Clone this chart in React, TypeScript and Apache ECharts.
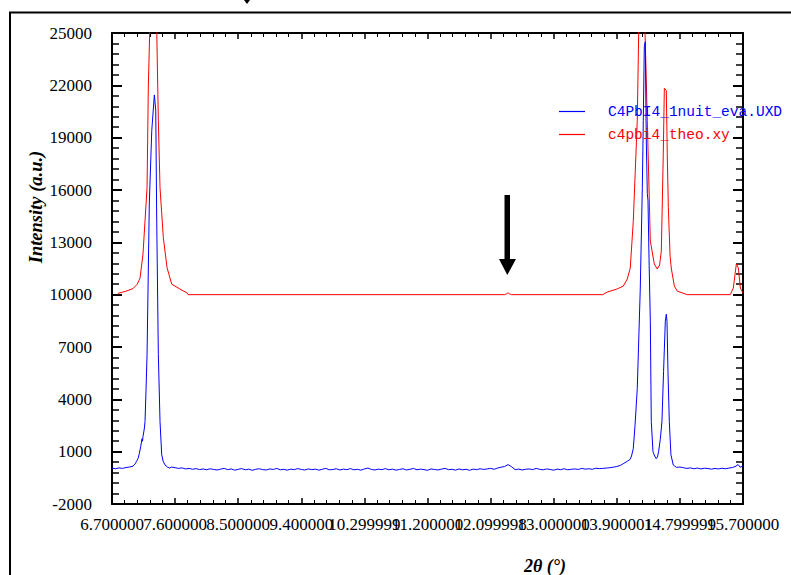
import React, { useEffect, useRef } from "react";
import * as echarts from "echarts";

const X_MIN = 6.7;
const X_MAX = 15.7;
const X_INTERVAL = 0.9;
const Y_MIN = -2000;
const Y_MAX = 25000;
const Y_INTERVAL = 3000;

const xTickLabels = [
  "6.700000", "7.600000", "8.500000", "9.400000", "10.299999", "11.200000",
  "12.099998", "13.000000", "13.900001", "14.799999", "15.700000",
];

const seriesNames = ["C4PbI4_1nuit_eva.UXD", "c4pbi4_theo.xy"];

// theoretical pattern (red)
const theoPoints: [number, number][] = [
  [6.786, 10000], [6.79, 10080], [6.9, 10200], [7.0, 10350], [7.06, 10600], [7.1, 10950],
  [7.142, 12330], [7.2, 16130], [7.218, 21900], [7.25, 27000], [7.29, 50000], [7.33, 27000],
  [7.361, 20000], [7.385, 16130], [7.432, 13270], [7.485, 11550], [7.552, 10600], [7.67, 10320],
  [7.77, 10100], [7.785, 10000], [12.3, 10000], [12.33, 10050], [12.35, 10110], [12.37, 10050],
  [12.4, 10000], [13.7, 10000], [13.764, 10150], [13.9, 10320], [13.992, 10490], [14.05, 10900],
  [14.092, 11530], [14.135, 14200], [14.192, 20000], [14.22, 27000], [14.256, 50000], [14.29, 27000],
  [14.335, 20000], [14.378, 13080], [14.435, 11760], [14.477, 11470], [14.51, 11700], [14.535, 12500],
  [14.563, 18100], [14.578, 21830], [14.606, 21700], [14.62, 18000], [14.635, 15000], [14.66, 12200],
  [14.677, 11530], [14.72, 10500], [14.763, 10200], [14.905, 10000], [15.519, 10000], [15.562, 10380],
  [15.605, 11760], [15.634, 11530], [15.662, 10380], [15.7, 10100],
];

// measured pattern (blue)
const BASE_STEP = 0.05;
const measuredStartX = 6.7;
const measuredStart = [60, 20, 70, 40, 90, 120];
const measuredPeak1: [number, number][] = [
  [7.0, 170], [7.03, 300], [7.05, 450], [7.071, 600], [7.09, 900], [7.11, 1300], [7.128, 1740],
  [7.135, 1600], [7.142, 1860], [7.16, 2300], [7.171, 2720], [7.185, 4500], [7.2, 6580],
  [7.232, 15200], [7.267, 19400], [7.304, 21450], [7.324, 20570], [7.338, 14230], [7.361, 6580],
  [7.385, 2720], [7.409, 820], [7.43, 450], [7.456, 240], [7.49, 120], [7.52, 60],
];
const measuredMidX = 7.55;
const measuredMid = [
  120, 80, 40, 70, 10, 40, -10, 30, -30, 10, -40, 20, -20, -50, 0, 40, -30, 10, -60, -10,
  30, -40, 0, -70, -10, 20, -30, -50, 10, -20, 40, -40, -10, -60, 0, -30, 30, -20, -50, 10,
  -30, 0, -60, -10, 40, -40, -20, 20, -50, 0, -30, 30, -40, -10, -60, 10, 60, -20, -50, 0,
  -30, 30, -40, 0, -60, -20, 20, -50, -10, 40, -40, 0, -30, -70, 10, -20, -50, 0, 40, -30,
  -10, -60, 10, -40, -10, -70, 0, -30, 20, -20, 10, 40, -10, 60, 110, 150, 260, 130, -30, 0,
  -50, -10, 10, -30, 40, -10, -40, 10, -20, -60, 0, -30, 20, -40, -10, 10, -20, 40, 0, 20,
  -10, 50, 30, 40, 60, 80, 110, 150,
];
const measuredPeak2: [number, number][] = [
  [13.95, 210], [14.0, 330], [14.05, 450], [14.09, 560], [14.11, 750], [14.135, 1170], [14.16, 2500],
  [14.192, 4620], [14.235, 10380], [14.264, 16130], [14.278, 20000], [14.292, 24200], [14.306, 24500],
  [14.32, 19000], [14.335, 15800], [14.345, 15400], [14.36, 12000], [14.378, 8480], [14.392, 2720],
  [14.416, 1000], [14.44, 750], [14.463, 600], [14.48, 700], [14.496, 1000], [14.52, 1700],
  [14.544, 2720], [14.567, 5600], [14.592, 8480], [14.606, 8880], [14.616, 8480], [14.63, 5600],
  [14.649, 2720], [14.672, 820], [14.705, 240], [14.75, 100],
];
const measuredEndX = 14.8;
const measuredEnd = [120, 80, 40, 70, 20, 60, 10, 50, 30, 0, 40, 10, 50, 20, 60, 90];
const measuredTail: [number, number][] = [[15.6, 170], [15.63, 260], [15.66, 110], [15.7, 180]];

function onGrid(x0: number, values: number[]): [number, number][] {
  return values.map((v, i) => [Number((x0 + i * BASE_STEP).toFixed(3)), v]);
}

const measuredPoints: [number, number][] = [
  ...onGrid(measuredStartX, measuredStart),
  ...measuredPeak1,
  ...onGrid(measuredMidX, measuredMid),
  ...measuredPeak2,
  ...onGrid(measuredEndX, measuredEnd),
  ...measuredTail,
];

const SERIF = '"Liberation Serif", "Times New Roman", serif';
const MONO = '"Liberation Mono", "Courier New", monospace';

export default function App() {
  const ref = useRef<HTMLDivElement>(null);
  useEffect(() => {
    if (!ref.current) return;
    const chart = echarts.init(ref.current, undefined, { renderer: "svg" });
    const xCommon = {
      type: "value" as const,
      min: X_MIN,
      max: X_MAX,
      interval: X_INTERVAL,
      axisLine: { show: true, onZero: false, lineStyle: { color: "#000", width: 2 } },
      axisTick: { show: true, inside: true, length: 6, lineStyle: { color: "#000", width: 1.5 } },
      minorTick: { show: true, splitNumber: 5, length: 4, lineStyle: { color: "#000", width: 1 } },
      splitLine: { show: false },
      minorSplitLine: { show: false },
    };
    const xLabelBase = {
      show: true,
      interval: 0,
      showMinLabel: true,
      showMaxLabel: true,
      hideOverlap: false,
      color: "#000",
      fontFamily: SERIF,
      fontSize: 17,
      margin: 12,
    };
    // Labels alternate between two bottom axes so that the library never drops overlapping ones.
    const labelFor = (v: number, parity: number) => {
      const idx = Math.round((v - X_MIN) / X_INTERVAL);
      return idx % 2 === parity ? xTickLabels[idx] ?? "" : "";
    };
    const yCommon = {
      type: "value" as const,
      min: Y_MIN,
      max: Y_MAX,
      interval: Y_INTERVAL,
      axisLine: { show: true, onZero: false, lineStyle: { color: "#000", width: 2 } },
      axisTick: { show: true, inside: true, length: 10, lineStyle: { color: "#000", width: 2 } },
      minorTick: { show: true, splitNumber: 5, length: 7, lineStyle: { color: "#000", width: 1.5 } },
      splitLine: { show: false },
      minorSplitLine: { show: false },
    };
    chart.setOption({
      animation: false,
      backgroundColor: "#ffffff",
      grid: { left: 112, top: 33, width: 631, height: 471, containLabel: false },
      xAxis: [
        {
          ...xCommon,
          position: "bottom",
          axisLabel: { ...xLabelBase, formatter: (v: number) => labelFor(v, 0) },
        },
        { ...xCommon, position: "top", axisLabel: { show: false } },
        {
          ...xCommon,
          position: "bottom",
          offset: 0,
          axisLine: { show: false },
          axisTick: { show: false },
          minorTick: { show: false },
          axisLabel: { ...xLabelBase, formatter: (v: number) => labelFor(v, 1) },
        },
      ],
      yAxis: [
        {
          ...yCommon,
          position: "left",
          axisLabel: {
            show: true,
            showMinLabel: true,
            showMaxLabel: true,
            color: "#000",
            fontFamily: SERIF,
            fontSize: 17,
            margin: 20,
            formatter: (v: number) => String(v),
          },
        },
        { ...yCommon, position: "right", axisLabel: { show: false } },
      ],
      legend: {
        orient: "vertical",
        left: 559,
        top: 104,
        padding: 0,
        icon: "rect",
        itemWidth: 26,
        itemHeight: 1.2,
        itemGap: 8,
        data: [
          { name: seriesNames[0], textStyle: { color: "#0000ff" } },
          { name: seriesNames[1], textStyle: { color: "#ff0000" } },
        ],
        textStyle: { fontFamily: MONO, fontSize: 14.5, lineHeight: 14, padding: [0, 0, 0, 18] },
      },
      series: [
        {
          name: seriesNames[1],
          type: "line",
          xAxisIndex: 0,
          yAxisIndex: 0,
          data: theoPoints,
          showSymbol: false,
          symbol: "none",
          clip: true,
          lineStyle: { color: "#ff0000", width: 1 },
          itemStyle: { color: "#ff0000" },
        },
        {
          name: seriesNames[0],
          type: "line",
          xAxisIndex: 0,
          yAxisIndex: 0,
          data: measuredPoints,
          showSymbol: false,
          symbol: "none",
          clip: true,
          lineStyle: { color: "#0000ff", width: 1 },
          itemStyle: { color: "#0000ff" },
        },
      ],
      graphic: [
        {
          type: "polyline",
          shape: { points: [[10, 575], [10, 12.5], [791, 12.5]] },
          style: { stroke: "#000", lineWidth: 2, fill: null },
          silent: true,
        },
        {
          type: "polygon",
          shape: { points: [[244, 0], [250, 0], [247, 4]] },
          style: { fill: "#000" },
          silent: true,
        },
        {
          type: "rect",
          shape: { x: 504.5, y: 195, width: 5.5, height: 66 },
          style: { fill: "#000" },
          silent: true,
        },
        {
          type: "polygon",
          shape: { points: [[499, 259], [516, 259], [507.3, 275]] },
          style: { fill: "#000" },
          silent: true,
        },
        {
          type: "text",
          x: 36,
          y: 207,
          rotation: Math.PI / 2,
          style: {
            text: "Intensity (a.u.)",
            font: `italic bold 18.5px ${SERIF}`,
            fill: "#000",
            align: "center",
            verticalAlign: "middle",
          },
          silent: true,
        },
        {
          type: "text",
          x: 545,
          y: 566,
          style: {
            text: "2θ (°)",
            font: `italic bold 18px ${SERIF}`,
            fill: "#000",
            align: "center",
            verticalAlign: "middle",
          },
          silent: true,
        },
      ],
    });
    return () => chart.dispose();
  }, []);
  return (
    <div
      ref={ref}
      style={{ position: "absolute", left: 0, top: 0, width: 791, height: 575, background: "#fff" }}
    />
  );
}
